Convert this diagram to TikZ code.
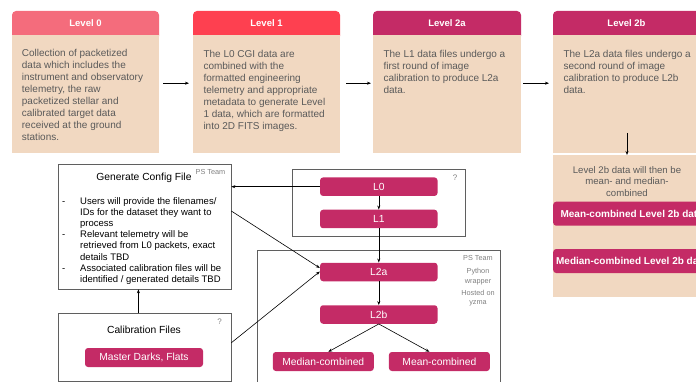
\documentclass[tikz,border=0pt]{standalone}
\usepackage{fontspec}
\setmainfont{Liberation Sans}
\usetikzlibrary{arrows.meta}
\definecolor{peach}{RGB}{241,216,193}
\definecolor{lvlzero}{RGB}{244,108,124}
\definecolor{lvlone}{RGB}{254,64,80}
\definecolor{lvltwo}{RGB}{196,43,102}
\definecolor{bodygray}{RGB}{90,90,90}
\definecolor{framegray}{RGB}{95,95,95}

\begin{document}
\begin{tikzpicture}[x=1pt,y=-1pt,
  every node/.style={inner sep=0pt},
  body/.style={fill=peach,anchor=north west},
  hdtext/.style={text=white,font=\fontsize{9.5}{11}\selectfont\bfseries},
  desc/.style={text=bodygray,font=\fontsize{10}{12}\selectfont,align=left,anchor=north west},
  pill/.style={fill=lvltwo,rounded corners=3pt,text=white,font=\fontsize{10.3}{12}\selectfont,minimum width=117.5pt,minimum height=18.5pt},
  frame/.style={draw=framegray,line width=0.8pt,anchor=north west},
  note/.style={text=gray,font=\fontsize{7.3}{9.7}\selectfont,align=center},
  link/.style={-{Stealth[length=4pt,width=3pt]},line width=0.6pt},
]
\useasboundingbox (0,0) rectangle (696,382);
\clip (0,0) rectangle (696,382);

% level boxes along the top
\fill[lvlzero,rounded corners=4pt] (12,11) rectangle (159,40);
\fill[lvlone,rounded corners=4pt] (193,11) rectangle (340,40);
\fill[lvltwo,rounded corners=4pt] (373,11) rectangle (521,40);
\fill[lvltwo,rounded corners=4pt] (553,11) rectangle (701,40);
\node[body,minimum width=147pt,minimum height=118pt] (b0) at (12,35) {};
\node[body,minimum width=147pt,minimum height=118pt] (b1) at (193,35) {};
\node[body,minimum width=148pt,minimum height=118pt] (b2) at (373,35) {};
\node[body,minimum width=148pt,minimum height=118pt] (b3) at (553,35) {};
\node[body,minimum width=148pt,minimum height=142pt] (b3low) at (553,155) {};

\node[hdtext] (h0) at (85.5,23.3) {Level 0};
\node[hdtext] (h1) at (266.5,23.3) {Level 1};
\node[hdtext] (h2) at (447,23.3) {Level 2a};
\node[hdtext] (h3) at (626.5,23.3) {Level 2b};

\node[desc] (d0) at (21.7,49.5) {Collection of packetized\\data which includes the\\instrument and observatory\\telemetry, the raw\\packetized stellar and\\calibrated target data\\received at the ground\\stations.};
\node[desc] (d1) at (203.3,50.5) {The L0 CGI data are\\combined with the\\formatted engineering\\telemetry and appropriate\\metadata to generate Level\\1 data, which are formatted\\into 2D FITS images.};
\node[desc] (d2) at (383.3,50.5) {The L1 data files undergo a\\first round of image\\calibration to produce L2a\\data.};
\node[desc] (d3) at (563.3,50.5) {The L2a data files undergo a\\second round of image\\calibration to produce L2b\\data.};

\draw[link] ([xshift=4pt,yshift=11pt]b0.east) -- ([xshift=-4pt,yshift=11pt]b1.west);
\draw[link] ([xshift=6pt,yshift=11pt]b1.east) -- ([xshift=-2pt,yshift=11pt]b2.west);
\draw[link] ([xshift=2pt,yshift=11pt]b2.east) -- ([xshift=-4pt,yshift=11pt]b3.west);

\coordinate (dn) at (627,133);
\draw[link] (dn) -- (dn |- b3low.north);

\node[text=bodygray,font=\fontsize{9.6}{11.3}\selectfont,align=center] (sum) at (627,181.5) {Level 2b data will then be\\mean- and median-\\combined};
\node[pill,anchor=west,minimum width=157pt,minimum height=24pt,font=\fontsize{10}{12}\selectfont\bfseries] (meanall) at (553,213.7) {Mean-combined Level 2b data};
\node[pill,anchor=west,minimum width=157pt,minimum height=24pt,font=\fontsize{10}{12}\selectfont\bfseries] (medall) at (553,261) {Median-combined Level 2b data};

% config and calibration
\node[frame,minimum width=173pt,minimum height=124pt] (cfg) at (57.5,164.5) {};
\node[font=\fontsize{10.3}{12}\selectfont] (cfgtitle) at (144,177.5) {Generate Config File};
\node[note] (cfgteam) at (210.5,172) {PS Team};
\node[anchor=north west,align=left,font=\fontsize{9.5}{11.1}\selectfont] (cfgtext) at (80,197.5) {\llap{-\hspace{15pt}}Users will provide the filenames/\\IDs for the dataset they want to\\process\\\llap{-\hspace{15pt}}Relevant telemetry will be\\retrieved from L0 packets, exact\\details TBD\\\llap{-\hspace{15pt}}Associated calibration files will be\\identified / generated details TBD};

\node[frame,minimum width=173pt,minimum height=68pt] (calib) at (57.5,313.3) {};
\node[note,font=\fontsize{8}{10}\selectfont] (calibq) at (219.5,322) {?};
\node[font=\fontsize{10.3}{12}\selectfont] (calibtitle) at (144,330) {Calibration Files};
\node[pill,minimum width=118pt,minimum height=19pt] (darks) at (144,357.5) {Master Darks, Flats};

\draw[link] ([xshift=-6pt]calib.north) -- ([xshift=-6pt]cfg.south);

% pipeline
\node[frame,minimum width=173pt,minimum height=67pt] (grpa) at (292,169) {};
\node[note,font=\fontsize{8}{10}\selectfont] (grpaq) at (455,178) {?};
\node[frame,minimum width=243pt,minimum height=140pt] (grpb) at (257,249.5) {};
\node[note] (team) at (478,258) {PS Team};
\node[note] (wrap) at (478,276.8) {Python\\wrapper};
\node[note] (host) at (478,298.2) {Hosted on\\yzma};

\node[pill] (l0) at (378.8,186.7) {L0};
\node[pill] (l1) at (378.8,219) {L1};
\node[pill] (l2a) at (378.8,272) {L2a};
\node[pill] (l2b) at (378.8,314.5) {L2b};
\node[pill,minimum width=101pt,minimum height=19pt] (med) at (323.3,361.5) {Median-combined};
\node[pill,minimum width=101pt,minimum height=19pt] (mean) at (439.4,361.5) {Mean-combined};

\draw[link] (l0) -- (l1);
\draw[link] (l1) -- (l2a);
\draw[link] (l2a) -- (l2b);
\draw[link] (l2b.south) -- ([xshift=5pt]med.north);
\draw[link] (l2b.south) -- ([xshift=-10pt]mean.north);

\draw[link] (l0.west) -- (l0.west -| cfg.east);
\draw[link] ([yshift=-46.5pt]cfg.north east) -- ([yshift=4pt]l2a.west);
\draw[link] ([yshift=-29.5pt]calib.north east) -- ([yshift=0.5pt]l2a.west);
\end{tikzpicture}
\end{document}
